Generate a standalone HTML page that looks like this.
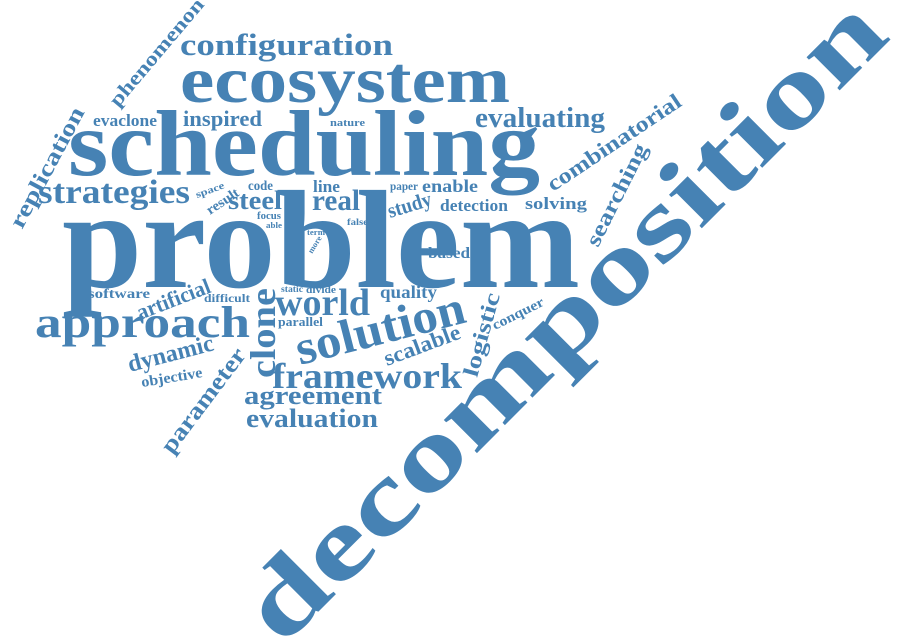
<!DOCTYPE html>
<html>
<head>
<meta charset="utf-8">
<style>
  html, body { margin:0; padding:0; background:#fff; }
  svg { display:block; }
  text { font-family: "Liberation Serif", serif; font-weight: bold; fill: #4682b4; }
</style>
</head>
<body>
<svg id="cloud" width="900" height="644" viewBox="0 0 900 644" xmlns="http://www.w3.org/2000/svg"></svg>
<script>
// word, baseline start x, start y, end x, end y, font size
const words = [
  ["decomposition", 282, 648, 892, 38, 102],
  ["problem", 62, 287, 580, 287, 140],
  ["scheduling", 68, 175, 540, 175, 93],
  ["ecosystem", 180, 102, 510, 102, 66],
  ["configuration", 180, 55, 393, 55, 31],
  ["approach", 35, 337, 250, 337, 44],
  ["strategies", 38, 203, 190, 203, 34],
  ["replication", 22, 230, 85, 112, 23],
  ["phenomenon", 118, 108, 205, 5, 20],
  ["evaclone", 93, 126, 157, 126, 17],
  ["inspired", 183, 126, 262, 126, 22],
  ["nature", 330, 126, 365, 126, 11],
  ["evaluating", 475, 127, 605, 127, 28],
  ["combinatorial", 553, 192, 683, 105, 22],
  ["searching", 598, 248, 648, 148, 22],
  ["space", 197, 198, 225, 188, 10],
  ["result", 210, 215, 240, 195, 14],
  ["code", 248, 190, 273, 190, 14],
  ["steel", 228, 209, 282, 209, 26],
  ["line", 313, 192, 340, 192, 17],
  ["real", 312, 210, 360, 210, 30],
  ["paper", 390, 190, 418, 190, 12],
  ["enable", 422, 192, 478, 192, 18],
  ["study", 390, 218, 433, 205, 21],
  ["detection", 440, 211, 508, 211, 17],
  ["solving", 525, 209, 587, 209, 17],
  ["focus", 257, 219, 281, 219, 10],
  ["able", 266, 228, 282, 228, 8],
  ["false", 347, 225, 368, 225, 9],
  ["term", 307, 235, 325, 235, 8],
  ["more", 312, 254, 322, 238, 8],
  ["based", 428, 258, 470, 258, 16],
  ["software", 88, 298, 150, 298, 14],
  ["artificial", 140, 320, 212, 292, 22],
  ["difficult", 204, 302, 250, 302, 12],
  ["static", 281, 292, 303, 292, 9],
  ["divide", 306, 293, 336, 293, 11],
  ["clone", 275, 378, 275, 288, 36],
  ["world", 275, 315, 370, 315, 38],
  ["quality", 380, 298, 437, 298, 18],
  ["parallel", 278, 326, 323, 326, 13],
  ["solution", 300, 365, 468, 322, 48],
  ["logistic", 477, 378, 500, 295, 22],
  ["conquer", 495, 330, 545, 305, 14],
  ["scalable", 387, 366, 462, 338, 22],
  ["dynamic", 130, 372, 215, 350, 24],
  ["objective", 142, 387, 203, 377, 15],
  ["parameter", 172, 455, 247, 355, 24],
  ["framework", 272, 388, 462, 388, 36],
  ["agreement", 244, 404, 382, 404, 26],
  ["evaluation", 246, 427, 378, 427, 26]
];
const NS = "http://www.w3.org/2000/svg";
const svg = document.getElementById("cloud");
for (const w of words) {
  const [txt, x1, y1, x2, y2, size] = w;
  const dx = x2 - x1, dy = y2 - y1;
  const len = Math.sqrt(dx*dx + dy*dy);
  const ang = Math.atan2(dy, dx) * 180 / Math.PI;
  const t = document.createElementNS(NS, "text");
  
  
  t.setAttribute("x", x1);
  t.setAttribute("y", y1);
  t.setAttribute("font-size", size);
  t.setAttribute("textLength", len.toFixed(1));
  t.setAttribute("lengthAdjust", "spacingAndGlyphs");
  if (Math.abs(ang) > 0.01) t.setAttribute("transform", "rotate(" + ang.toFixed(2) + " " + x1 + " " + y1 + ")");
  t.textContent = txt;
  svg.appendChild(t);
}
</script>
</body>
</html>
